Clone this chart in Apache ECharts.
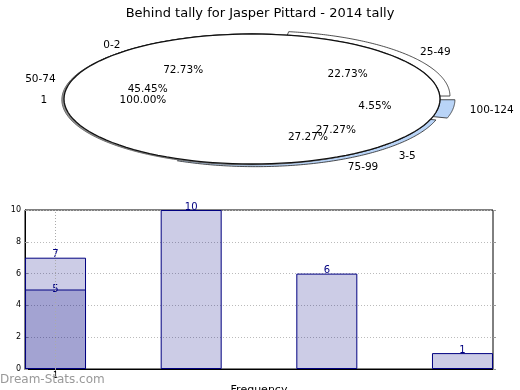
<!DOCTYPE html>
<html>
<head>
<meta charset="utf-8">
<script src="https://cdn.jsdelivr.net/npm/echarts@6/dist/echarts.min.js"></script>
<style>
html,body{margin:0;padding:0;background:#fff;}
#main{width:520px;height:390px;}
</style>
</head>
<body>
<div id="main"></div>
<script>
// ---- data ----
const titleText = 'Behind tally for Jasper Pittard - 2014 tally';
// pie 1 (single slice)
const pieANames = ['1'];
const pieAValues = [22];
// pie 2
const pieBNames = ['0-2', '3-5'];
const pieBValues = [16, 6];
// pie 3
const pieCNames = ['25-49', '50-74', '75-99', '100-124'];
const pieCValues = [5, 10, 6, 1];
// bars
const barX = [1, 2, 3, 4];
const barValues = [7, 10, 6, 1];
const overlayX = [1];
const overlayValues = [5];
const xTickValues = [1];
const yTicks = [0, 2, 4, 6, 8, 10];

// ---- styles ----
const FONT = 'DejaVu Sans';
const pieCColors = ['#ffffff', '#ffffff', '#b9d4f7', '#b9d4f7'];
const pieCExplode = [0.07, 0, 0.045, 0.08];
const LABEL_SHIFT = 0.04, LABEL_SHIFT_Y = -0.02, LABEL_R = 1.13, PCT_R = 0.62;

function makeRender(values, names, opts) {
  const total = values.reduce((a, b) => a + b, 0);
  return function (params, api) {
    const i = params.dataIndex;
    let start = 0;
    for (let k = 0; k < i; k++) start += values[k];
    const a0 = start / total * Math.PI * 2;
    const a1 = (start + values[i]) / total * Math.PI * 2;
    const mid = (a0 + a1) / 2;
    const ex = opts.explode ? opts.explode[i] : 0;
    const ox = ex * Math.cos(mid), oy = ex * Math.sin(mid);
    const full = values[i] === total;
    const pts = [];
    if (!full) pts.push(api.coord([ox, oy]));
    const N = 120;
    for (let j = 0; j <= N; j++) {
      const a = a0 + (a1 - a0) * j / N;
      pts.push(api.coord([ox + Math.cos(a), oy + Math.sin(a)]));
    }
    const children = [];
    if (opts.shadow) {
      children.push({
        type: 'polygon', z2: opts.z - 1,
        shape: { points: pts.map(p => [p[0] - 2.2, p[1] + 0.8]) },
        style: { fill: '#909090', stroke: '#707070', lineWidth: 1 }
      });
    }
    children.push({
      type: 'polygon', z2: opts.z,
      shape: { points: pts },
      style: { fill: opts.colors[i], stroke: opts.stroke, lineWidth: opts.lineWidth }
    });
    const c = Math.cos(mid), s = Math.sin(mid);
    const lp = api.coord([LABEL_SHIFT + c * LABEL_R, LABEL_SHIFT_Y + s * LABEL_R]);
    children.push({
      type: 'text', z2: 100,
      x: lp[0], y: lp[1],
      style: {
        text: names[i], fill: '#000', font: '10.5px "' + FONT + '"',
        align: c > 0 ? 'left' : 'right', verticalAlign: 'middle',
        textAlign: c > 0 ? 'left' : 'right', textVerticalAlign: 'middle'
      }
    });
    const pp = api.coord([LABEL_SHIFT + c * PCT_R, LABEL_SHIFT_Y + s * PCT_R]);
    children.push({
      type: 'text', z2: 100,
      x: pp[0], y: pp[1],
      style: {
        text: (values[i] / total * 100).toFixed(2) + '%', fill: '#000',
        font: '10.5px "' + FONT + '"',
        align: 'center', verticalAlign: 'middle',
        textAlign: 'center', textVerticalAlign: 'middle'
      }
    });
    return { type: 'group', children: children };
  };
}

const chart = echarts.init(document.getElementById('main'), null, { renderer: 'canvas' });

const option = {
  animation: false,
  backgroundColor: '#fff',
  textStyle: { fontFamily: FONT },
  title: {
    text: titleText, left: 'center', top: 2,
    textStyle: { fontSize: 13, fontWeight: 'normal', color: '#000', fontFamily: FONT }
  },
  graphic: [{
    type: 'text', left: 0, top: 374, z: 50,
    style: { text: 'Dream-Stats.com', fill: '#999', font: '12px "' + FONT + '"' }
  }],
  grid: [
    { left: 64, top: 34, width: 376, height: 130, show: false, outerBoundsMode: 'none', containLabel: false },
    { left: 25, top: 210, width: 468, height: 159, show: true, borderColor: '#000', borderWidth: 1,
      backgroundColor: 'transparent', outerBoundsMode: 'none', containLabel: false }
  ],
  xAxis: [
    { gridIndex: 0, type: 'value', min: -1, max: 1, show: false },
    {
      gridIndex: 1, type: 'value', min: 0.775, max: 4.225,
      axisLine: { lineStyle: { color: '#000', width: 1 } },
      axisTick: { customValues: xTickValues, length: 4, lineStyle: { color: '#888' } },
      axisLabel: { customValues: xTickValues, fontSize: 8, color: '#000', margin: 3, fontFamily: FONT },
      splitLine: { show: false },
      name: 'Frequency', nameLocation: 'middle', nameGap: 16,
      nameTextStyle: { fontSize: 11, color: '#000', fontFamily: FONT }
    }
  ],
  yAxis: [
    { gridIndex: 0, type: 'value', min: -1, max: 1, show: false },
    {
      gridIndex: 1, type: 'value', min: yTicks[0], max: yTicks[yTicks.length - 1], interval: 2,
      axisLine: { show: true, lineStyle: { color: '#000', width: 1 } },
      axisTick: { show: true, inside: true, length: 3, lineStyle: { color: '#999' } },
      axisLabel: { fontSize: 8, color: '#000', margin: 4, fontFamily: FONT },
      splitLine: { show: true, lineStyle: { color: '#bbbbbb', type: [1, 2], width: 1 } },
      name: 'Stat Intervals', nameLocation: 'middle', nameGap: 14,
      nameTextStyle: { fontSize: 11, color: '#000', fontFamily: FONT }
    },
    {
      gridIndex: 1, type: 'value', min: yTicks[0], max: yTicks[yTicks.length - 1], interval: 2,
      position: 'right',
      axisLine: { show: false },
      axisTick: { show: true, inside: false, length: 3, lineStyle: { color: '#999' } },
      axisLabel: { show: false },
      splitLine: { show: false }
    }
  ],
  series: [
    {
      type: 'custom', xAxisIndex: 0, yAxisIndex: 0,
      data: pieCValues.map((v, i) => [0, 0, v]),
      encode: { x: 0, y: 1 },
      renderItem: makeRender(pieCValues, pieCNames, {
        colors: pieCColors, explode: pieCExplode, stroke: '#222', lineWidth: 0.8, z: 1
      })
    },
    {
      type: 'custom', xAxisIndex: 0, yAxisIndex: 0,
      data: pieBValues.map((v, i) => [0, 0, v]),
      encode: { x: 0, y: 1 },
      renderItem: makeRender(pieBValues, pieBNames, {
        colors: ['#ffffff', '#ffffff'], stroke: '#222', lineWidth: 0.8, z: 3
      })
    },
    {
      type: 'custom', xAxisIndex: 0, yAxisIndex: 0,
      data: pieAValues.map((v, i) => [0, 0, v]),
      encode: { x: 0, y: 1 },
      renderItem: makeRender(pieAValues, pieANames, {
        colors: ['#ffffff'], stroke: '#111', lineWidth: 1.3, z: 6, shadow: true
      })
    },
    {
      type: 'bar', xAxisIndex: 1, yAxisIndex: 1,
      data: barX.map((x, i) => [x, barValues[i]]),
      barWidth: 61, barGap: '-100%',
      itemStyle: { color: 'rgba(0,0,128,0.2)', borderColor: '#000080', borderWidth: 1 },
      label: { show: true, position: 'top', distance: -2, color: '#000080', fontSize: 10, fontFamily: FONT },
      markLine: {
        silent: true, symbol: 'none', label: { show: false },
        lineStyle: { color: '#aaaaaa', type: [1, 2], width: 1 },
        data: xTickValues.map(v => ({ xAxis: v }))
      }
    },
    {
      type: 'bar', xAxisIndex: 1, yAxisIndex: 1,
      data: overlayX.map((x, i) => [x, overlayValues[i]]),
      barWidth: 61, barGap: '-100%',
      itemStyle: { color: 'rgba(0,0,128,0.2)', borderColor: '#000080', borderWidth: 1 },
      label: { show: true, position: 'top', distance: -5, color: '#000080', fontSize: 10, fontFamily: FONT }
    }
  ]
};
chart.setOption(option);
</script>
</body>
</html>
